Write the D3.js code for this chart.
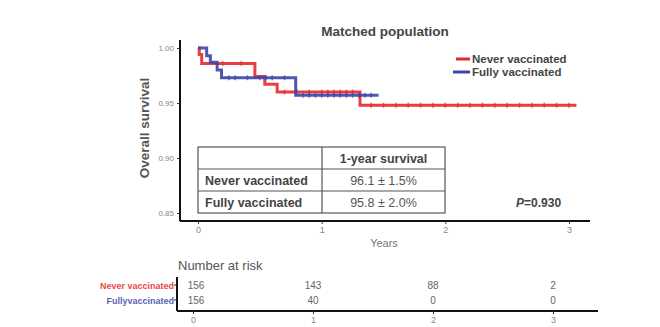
<!DOCTYPE html>
<html><head><meta charset="utf-8">
<script src="https://cdn.jsdelivr.net/npm/d3@7"></script>
<style>body{margin:0;background:#fff}svg{display:block}text{font-family:"Liberation Sans",Arial,sans-serif}</style>
</head><body><svg id="c" width="660" height="327"></svg>
<script>
// ---- data ----
const groups = ["Never vaccinated", "Fully vaccinated"];
const riskLabels = ["Never vaccinated", "Fullyvaccinated"];
const colors = ["#e5282c", "#3a47a6"];
// step curves: [time (years), survival]
const neverTimes = [0, 0.01, 0.03, 0.46, 0.54, 0.64, 1.31, 3.06];
const neverSurv  = [1.0, 0.994, 0.986, 0.974, 0.967, 0.960, 0.948, 0.948];
const fullyTimes = [0, 0.07, 0.10, 0.155, 0.19, 0.79, 1.46];
const fullySurv  = [1.0, 0.993, 0.987, 0.980, 0.973, 0.957, 0.957];
const neverCensor = [0.2, 0.35, 0.7, 0.8, 0.9, 1.0, 1.05, 1.1, 1.15, 1.2, 1.25, 1.4, 1.5, 1.6, 1.7, 1.8, 1.9, 2.0, 2.1, 2.2, 2.3, 2.4, 2.5, 2.6, 2.7, 2.8, 2.9, 3.0];
const fullyCensor = [0.25, 0.3, 0.4, 0.5, 0.55, 0.6, 0.7, 0.85, 0.9, 0.95, 1.0, 1.05, 1.1, 1.15, 1.2, 1.25, 1.3, 1.35, 1.4];
const yTicks = [0.85, 0.90, 0.95, 1.00];
const xTicks = [0, 1, 2, 3];
const tableHeader = "1-year survival";
const tableValues = ["96.1 ± 1.5%", "95.8 ± 2.0%"];
const pValue = "=0.930";
const riskTimes = [0, 1, 2, 3];
const riskNever = [156, 143, 88, 2];
const riskFully = [156, 40, 0, 0];

// ---- drawing ----
const svg = d3.select("#c");
const x = d3.scaleLinear().domain([0, 3]).range([198, 569]);
const y = d3.scaleLinear().domain([0.85, 1.0]).range([213, 48]);

svg.append("text").attr("x", 385).attr("y", 36).attr("text-anchor", "middle")
  .attr("font-size", 13.5).attr("font-weight", "bold").attr("fill", "#444").text("Matched population");

// axes
const yAxis = d3.axisLeft(y).tickValues(yTicks).tickFormat(d3.format(".2f")).tickSize(3);
const gy = svg.append("g").attr("transform", "translate(180,0)").call(yAxis);
gy.select(".domain").attr("d", "M0,40V221").attr("stroke", "#111").attr("stroke-width", 2);
gy.selectAll(".tick line").attr("stroke", "#333");
gy.selectAll(".tick text").attr("font-size", 8).attr("fill", "#888").attr("font-family", "Liberation Sans, Arial");

const xAxis = d3.axisBottom(x).tickValues(xTicks).tickFormat(d3.format("d")).tickSize(3);
const gx = svg.append("g").attr("transform", "translate(0,221)").call(xAxis);
gx.select(".domain").attr("d", "M180,0H590").attr("stroke", "#111").attr("stroke-width", 2);
gx.selectAll(".tick line").attr("stroke", "#333");
gx.selectAll(".tick text").attr("font-size", 9).attr("fill", "#888").attr("font-family", "Liberation Sans, Arial");

svg.append("text").attr("x", 384).attr("y", 247).attr("text-anchor", "middle")
  .attr("font-size", 11).attr("fill", "#777").text("Years");
svg.append("text").attr("transform", "translate(149,128) rotate(-90)").attr("text-anchor", "middle")
  .attr("font-size", 13.5).attr("font-weight", "bold").attr("fill", "#555").text("Overall survival");

// curves
const line = d3.line().x(d => x(d[0])).y(d => y(d[1])).curve(d3.curveStepAfter);
const series = [
  {t: neverTimes, s: neverSurv, c: neverCensor, col: colors[0]},
  {t: fullyTimes, s: fullySurv, c: fullyCensor, col: colors[1]}
];
function survAt(se, t) { let v = se.s[0]; se.t.forEach((tt, i) => { if (tt <= t) v = se.s[i]; }); return v; }
series.forEach(se => {
  const pts = se.t.map((t, i) => [t, se.s[i]]);
  svg.append("path").attr("d", line(pts)).attr("fill", "none").attr("stroke", se.col).attr("stroke-width", 3).attr("opacity", 0.9);
  svg.append("g").selectAll("line").data(se.c).join("line")
    .attr("x1", d => x(d)).attr("x2", d => x(d))
    .attr("y1", d => y(survAt(se, d)) - 2.5).attr("y2", d => y(survAt(se, d)) + 2.5)
    .attr("stroke", se.col).attr("stroke-width", 1.5).attr("opacity", 0.7);
});

// legend
groups.forEach((g, i) => {
  const ly = 59 + i * 13;
  svg.append("line").attr("x1", 456 - (i ? 3 : 0)).attr("x2", 470).attr("y1", ly).attr("y2", ly)
    .attr("stroke", colors[i]).attr("stroke-width", 3);
  svg.append("text").attr("x", 472).attr("y", ly + 4).attr("font-size", 11.5).attr("font-weight", "bold")
    .attr("fill", "#444").text(g);
});

// inset table
const tb = svg.append("g");
const tx0 = 198, tx1 = 322, tx2 = 445;
const ty = [147, 169, 191, 213];
tb.append("rect").attr("x", tx0).attr("y", ty[0]).attr("width", tx2 - tx0).attr("height", ty[3] - ty[0])
  .attr("fill", "#fff").attr("stroke", "#555").attr("stroke-width", 1.2);
tb.append("line").attr("x1", tx1).attr("x2", tx1).attr("y1", ty[0]).attr("y2", ty[3]).attr("stroke", "#555").attr("stroke-width", 1.2);
[ty[1], ty[2]].forEach(v => tb.append("line").attr("x1", tx0).attr("x2", tx2).attr("y1", v).attr("y2", v).attr("stroke", "#555").attr("stroke-width", 1.2));
tb.append("text").attr("x", (tx1 + tx2) / 2).attr("y", ty[0] + 15.5).attr("text-anchor", "middle")
  .attr("font-size", 12.5).attr("font-weight", "bold").attr("fill", "#444").text(tableHeader);
groups.forEach((g, i) => {
  tb.append("text").attr("x", tx0 + 7).attr("y", ty[i + 1] + 15.5).attr("font-size", 12.5).attr("font-weight", "bold")
    .attr("fill", "#444").text(g);
  tb.append("text").attr("x", (tx1 + tx2) / 2).attr("y", ty[i + 1] + 15.5).attr("text-anchor", "middle")
    .attr("font-size", 12.5).attr("fill", "#555").text(tableValues[i]);
});

const pt = svg.append("text").attr("x", 516).attr("y", 207).attr("font-size", 12).attr("font-weight", "bold").attr("fill", "#444");
pt.append("tspan").attr("font-style", "italic").text("P");
pt.append("tspan").text(pValue);

// number at risk
svg.append("text").attr("x", 178).attr("y", 270).attr("font-size", 13).attr("fill", "#555").text("Number at risk");
const xr = d3.scaleLinear().domain([0, 3]).range([193, 553]);
const rows = [riskNever, riskFully];
const ry = d3.scalePoint().domain([0, 1]).range([285, 300]);
const gr = svg.append("g").attr("transform", "translate(177,0)")
  .call(d3.axisLeft(ry).tickValues([]).tickSize(0));
gr.select(".domain").attr("d", "M0,277V311").attr("stroke", "#111").attr("stroke-width", 2);
rows.forEach((r, i) => {
  svg.append("line").attr("x1", 174).attr("x2", 177).attr("y1", ry(i)).attr("y2", ry(i)).attr("stroke", "#333");
  svg.append("text").attr("x", 174).attr("y", ry(i) + 3.5).attr("text-anchor", "end").attr("font-size", 9)
    .attr("font-weight", "bold").attr("fill", colors[i]).attr("opacity", 0.85).text(riskLabels[i]);
  svg.append("g").selectAll("text").data(r).join("text")
    .attr("x", (d, j) => xr(riskTimes[j]) + (j === 0 ? 3 : 0)).attr("y", ry(i) + 4)
    .attr("text-anchor", "middle").attr("font-size", 10).attr("fill", "#666").text(d => d);
});
const gxr = svg.append("g").attr("transform", "translate(0,311)")
  .call(d3.axisBottom(xr).tickValues(riskTimes).tickFormat(d3.format("d")).tickSize(3));
gxr.select(".domain").attr("d", "M177,0H598").attr("stroke", "#111").attr("stroke-width", 2);
gxr.selectAll(".tick line").attr("stroke", "#333");
gxr.selectAll(".tick text").attr("font-size", 9).attr("fill", "#888").attr("font-family", "Liberation Sans, Arial");
</script></body></html>
